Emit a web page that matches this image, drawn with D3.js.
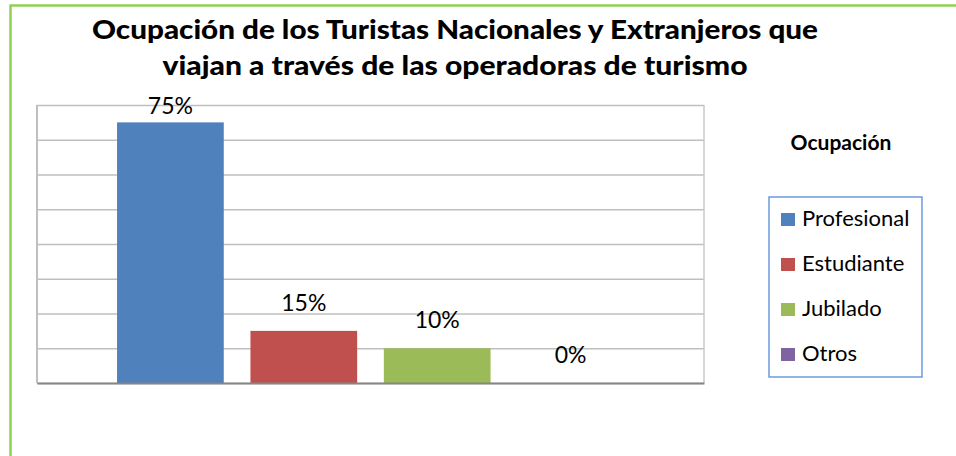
<!DOCTYPE html>
<html>
<head>
<meta charset="utf-8">
<script src="https://cdn.jsdelivr.net/npm/d3@7"></script>
<style>
  html, body { margin: 0; padding: 0; background: #fff; }
  svg { display: block; }
</style>
</head>
<body>
<div id="chart"></div>
<script>
// Data
const titleLines = ["Ocupación de los Turistas Nacionales y Extranjeros que",
                    "viajan a través de las operadoras de turismo"];
const legendTitle = "Ocupación";
const categories = ["Profesional", "Estudiante", "Jubilado", "Otros"];
const values = [0.75, 0.15, 0.10, 0.00];
const colors = ["#4F81BD", "#C0504D", "#9BBB59", "#8064A2"];
const yTicks = [0, 0.1, 0.2, 0.3, 0.4, 0.5, 0.6, 0.7, 0.8];

const W = 956, H = 456;
const plot = { left: 37, right: 704, top: 105, bottom: 383 };

const svg = d3.select("#chart").append("svg")
  .attr("width", W).attr("height", H);

svg.append("rect").attr("width", W).attr("height", H).attr("fill", "#fff");

// Frame lines (top and left)
svg.append("line").attr("x1", 10.5).attr("x2", W).attr("y1", 5.5).attr("y2", 5.5)
  .attr("stroke", "#92D050").attr("stroke-width", 2.5);
svg.append("line").attr("x1", 10.5).attr("x2", 10.5).attr("y1", 4.5).attr("y2", H)
  .attr("stroke", "#92D050").attr("stroke-width", 2.5);

// Title
const fontFam = "Lato, 'Open Sans', 'DejaVu Sans', sans-serif";
const titleBase = [39, 75];
const titleWidths = [726, 585];
titleLines.forEach((t, i) => {
  svg.append("text")
    .attr("x", 455).attr("y", titleBase[i])
    .attr("text-anchor", "middle")
    .attr("font-family", fontFam)
    .attr("font-weight", 900)
    .attr("font-size", 26)
    .attr("fill", "#000")
    .attr("textLength", titleWidths[i])
    .attr("lengthAdjust", "spacingAndGlyphs")
    .text(t);
});

// Scales
const x = d3.scaleBand().domain(categories)
  .range([plot.left, plot.right])
  .paddingInner(0.2).paddingOuter(0.6);
const y = d3.scaleLinear().domain([0, 0.8]).range([plot.bottom, plot.top]);

// Gridlines via axis
const grid = svg.append("g")
  .attr("transform", `translate(${plot.left},0)`)
  .call(d3.axisRight(y).tickValues(yTicks).tickSize(plot.right - plot.left).tickFormat(""));
grid.select(".domain").remove();
grid.selectAll(".tick line").attr("stroke", "#BFBFBF").attr("stroke-width", 1.5);

// Plot border: left and right
svg.append("line").attr("x1", plot.left).attr("x2", plot.left)
  .attr("y1", plot.top).attr("y2", plot.bottom)
  .attr("stroke", "#BFBFBF").attr("stroke-width", 2);
svg.append("line").attr("x1", plot.right).attr("x2", plot.right)
  .attr("y1", plot.top).attr("y2", plot.bottom)
  .attr("stroke", "#C8C8C8").attr("stroke-width", 1.5);

// Bars
svg.append("g").selectAll("rect")
  .data(categories)
  .join("rect")
  .attr("x", d => x(d))
  .attr("width", x.bandwidth())
  .attr("y", (d, i) => y(values[i]))
  .attr("height", (d, i) => y(0) - y(values[i]))
  .attr("fill", (d, i) => colors[i]);

// Category axis line
svg.append("g")
  .attr("transform", `translate(0,${plot.bottom})`)
  .call(d3.axisBottom(x).tickSize(0).tickFormat(""))
  .select(".domain").attr("stroke", "#868686").attr("stroke-width", 2);

// Value labels
svg.append("g").selectAll("text")
  .data(categories)
  .join("text")
  .attr("x", d => x(d) + x.bandwidth() / 2)
  .attr("y", (d, i) => Math.max(y(values[i]) - 20, plot.top + 9))
  .attr("text-anchor", "middle")
  .attr("font-family", fontFam)
  .attr("font-size", 23)
  .attr("fill", "#000")
  .text((d, i) => d3.format(".0%")(values[i]));

// Legend
svg.append("text")
  .attr("x", 841).attr("y", 150)
  .attr("text-anchor", "middle")
  .attr("font-family", fontFam)
  .attr("font-weight", "bold")
  .attr("font-size", 21)
  .attr("fill", "#000")
  .text(legendTitle);

svg.append("rect")
  .attr("x", 769).attr("y", 197).attr("width", 153).attr("height", 180)
  .attr("fill", "#fff").attr("stroke", "#6A9BDC").attr("stroke-width", 1.5);

const leg = svg.append("g").selectAll("g")
  .data(categories)
  .join("g")
  .attr("transform", (d, i) => `translate(781,${226 + i * 45})`);
leg.append("rect")
  .attr("x", 0).attr("y", -13).attr("width", 14).attr("height", 13)
  .attr("fill", (d, i) => colors[i]);
leg.append("text")
  .attr("x", 21).attr("y", 0)
  .attr("font-family", fontFam)
  .attr("font-size", 22)
  .attr("fill", "#000")
  .text(d => d);
</script>
</body>
</html>
